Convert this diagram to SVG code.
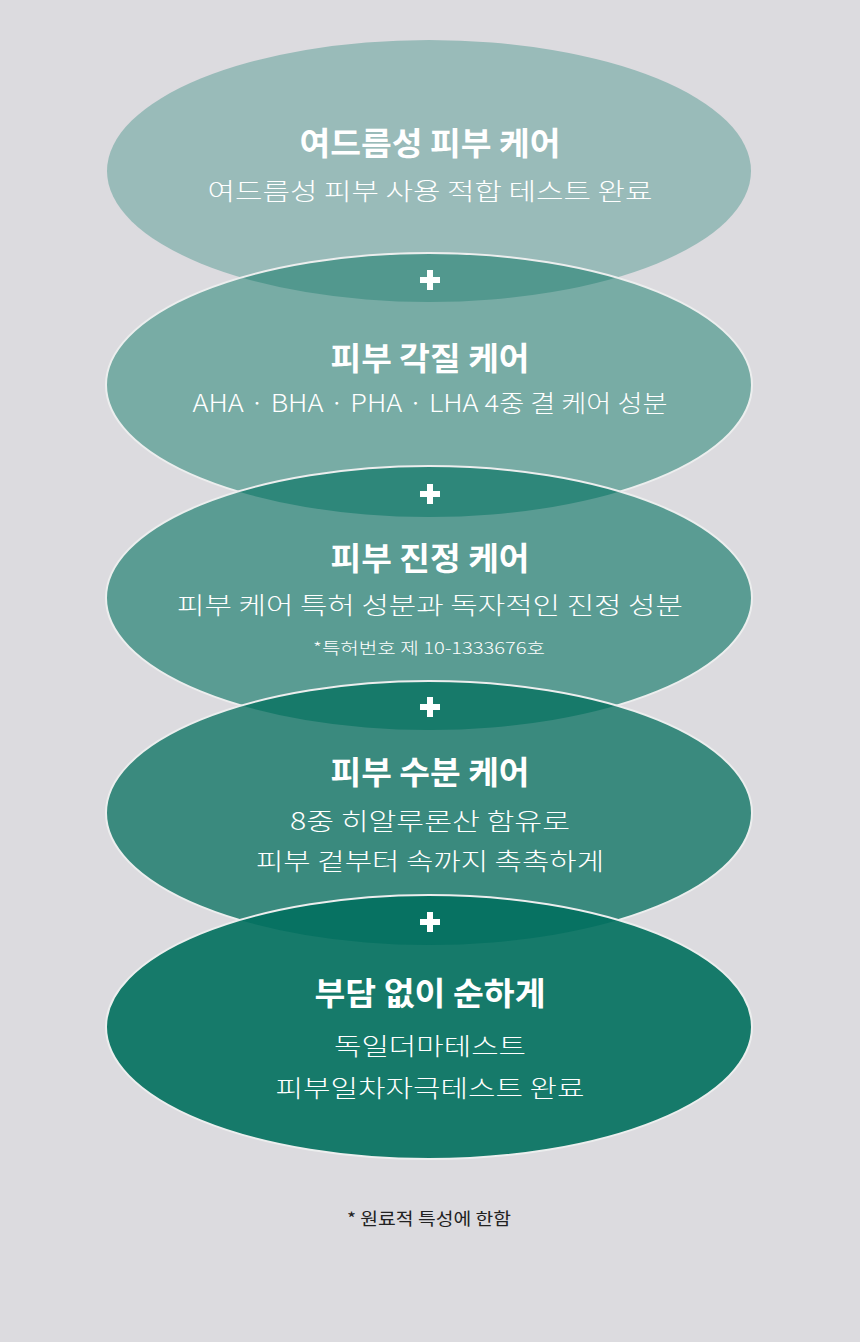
<svg xmlns="http://www.w3.org/2000/svg" width="860" height="1342" viewBox="0 0 860 1342">
<style>
.t{font-family:"Noto Sans CJK KR","Noto Sans",sans-serif;font-weight:700;font-size:32px;fill:#fff;text-anchor:middle}
.s{font-family:"Noto Sans CJK KR","Noto Sans",sans-serif;font-weight:300;font-size:24px;fill:#fff;text-anchor:middle}
.n{font-family:"Noto Sans CJK KR","Noto Sans",sans-serif;font-weight:300;font-size:16px;fill:#fff;text-anchor:middle}
.f{font-family:"Noto Sans CJK KR","Noto Sans",sans-serif;font-weight:400;font-size:17px;fill:#222;text-anchor:middle}
.st{fill:none;stroke:#eceeee;stroke-width:2}
.plus{fill:#fff}
</style>
<defs>
<clipPath id="c2"><ellipse cx="429" cy="385" rx="323" ry="132"/></clipPath>
<clipPath id="c3"><ellipse cx="429" cy="598" rx="323" ry="132"/></clipPath>
<clipPath id="c4"><ellipse cx="429" cy="813" rx="323" ry="132"/></clipPath>
<clipPath id="c5"><ellipse cx="429" cy="1027" rx="323" ry="132"/></clipPath>
</defs>
<rect width="860" height="1342" fill="#dcdbdf"/>
<g id="shapes">
<ellipse cx="429" cy="171" rx="322" ry="131" fill="#99bbb9"/>
<ellipse cx="429" cy="385" rx="323" ry="132" fill="#78aca5"/>
<ellipse cx="429" cy="171" rx="322" ry="131" fill="#52988e" clip-path="url(#c2)"/>
<ellipse class="st" cx="429" cy="385" rx="323" ry="132"/>
<ellipse cx="429" cy="598" rx="323" ry="132" fill="#5a9c93"/>
<ellipse cx="429" cy="385" rx="323" ry="132" fill="#2e877a" clip-path="url(#c3)"/>
<ellipse class="st" cx="429" cy="598" rx="323" ry="132"/>
<ellipse cx="429" cy="813" rx="323" ry="132" fill="#3a8a7e"/>
<ellipse cx="429" cy="598" rx="323" ry="132" fill="#177a6a" clip-path="url(#c4)"/>
<ellipse class="st" cx="429" cy="813" rx="323" ry="132"/>
<ellipse cx="429" cy="1027" rx="323" ry="132" fill="#167a6a"/>
<ellipse cx="429" cy="813" rx="323" ry="132" fill="#077262" clip-path="url(#c5)"/>
<ellipse class="st" cx="429" cy="1027" rx="323" ry="132"/>
</g>
<g id="connectors">
<path class="plus" d="M420 277h20v6h-20z M427 270h6v20h-6z"/>
<path class="plus" d="M420 491h20v6h-20z M427 484h6v20h-6z"/>
<path class="plus" d="M420 704h20v6h-20z M427 697h6v20h-6z"/>
<path class="plus" d="M420 919h20v6h-20z M427 912h6v20h-6z"/>
</g>
<g id="node1">
<text class="t" x="430" y="155" textLength="261" lengthAdjust="spacingAndGlyphs">여드름성 피부 케어</text>
<text class="s" x="430" y="200" textLength="445" lengthAdjust="spacingAndGlyphs">여드름성 피부 사용 적합 테스트 완료</text>
</g>
<g id="node2">
<text class="t" x="430" y="370" textLength="199" lengthAdjust="spacingAndGlyphs">피부 각질 케어</text>
<text class="s" x="430" y="412" textLength="475" lengthAdjust="spacingAndGlyphs">AHA · BHA · PHA · LHA 4중 결 케어 성분</text>
</g>
<g id="node3">
<text class="t" x="430" y="570" textLength="199" lengthAdjust="spacingAndGlyphs">피부 진정 케어</text>
<text class="s" x="430" y="614" textLength="506" lengthAdjust="spacingAndGlyphs">피부 케어 특허 성분과 독자적인 진정 성분</text>
<text class="n" x="429" y="654" textLength="232" lengthAdjust="spacingAndGlyphs">*특허번호 제 10-1333676호</text>
</g>
<g id="node4">
<text class="t" x="430" y="784" textLength="199" lengthAdjust="spacingAndGlyphs">피부 수분 케어</text>
<text class="s" x="430" y="830" textLength="280" lengthAdjust="spacingAndGlyphs">8중 히알루론산 함유로</text>
<text class="s" x="430" y="870" textLength="348" lengthAdjust="spacingAndGlyphs">피부 겉부터 속까지 촉촉하게</text>
</g>
<g id="node5">
<text class="t" x="430" y="1005" textLength="231" lengthAdjust="spacingAndGlyphs">부담 없이 순하게</text>
<text class="s" x="430" y="1055" textLength="192" lengthAdjust="spacingAndGlyphs">독일더마테스트</text>
<text class="s" x="430" y="1097" textLength="309" lengthAdjust="spacingAndGlyphs">피부일차자극테스트 완료</text>
</g>
<text class="f" x="429" y="1225" textLength="164" lengthAdjust="spacingAndGlyphs">* 원료적 특성에 한함</text>
</svg>
